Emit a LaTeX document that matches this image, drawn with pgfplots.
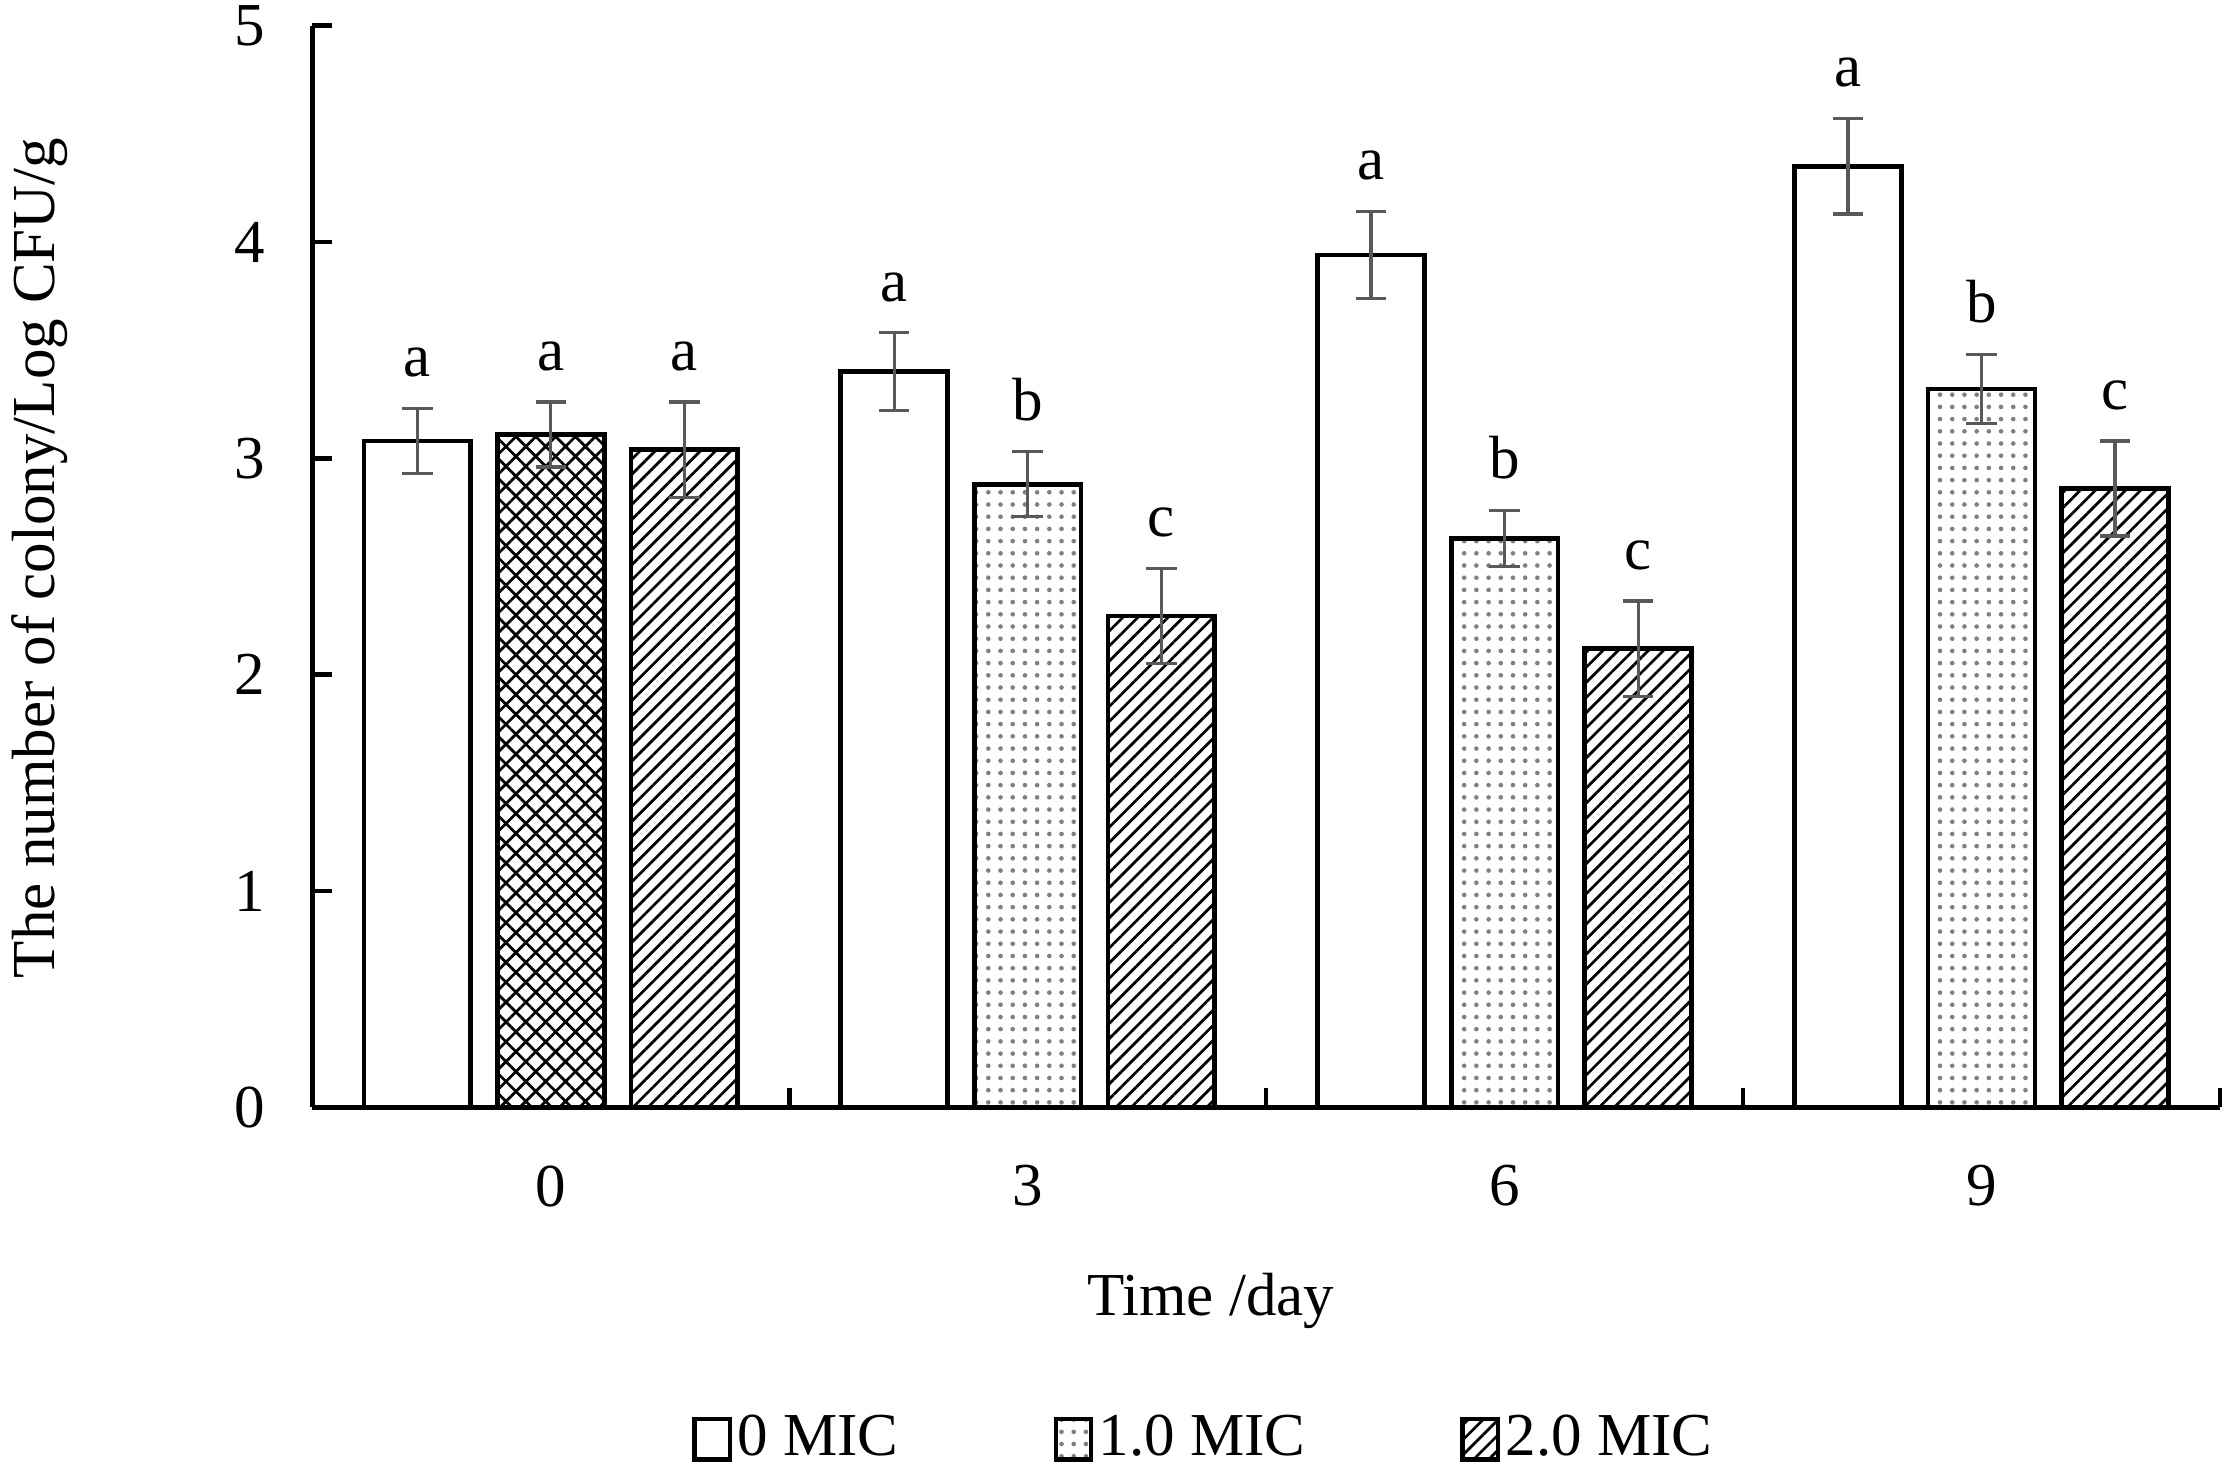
\documentclass[border=0pt]{standalone}
\usepackage{fontspec}
\setmainfont{Liberation Serif}
\usepackage{pgfplots}
\usepackage{pgfplotstable}
\pgfplotsset{compat=1.18}
\usetikzlibrary{patterns.meta}

% 0 MIC
\pgfplotstableread{
x s e
-0.28 3.08 0.15
0.72 3.40 0.18
1.72 3.94 0.20
2.72 4.35 0.22
}\seriesA

% 1.0 MIC (days 3, 6, 9)
\pgfplotstableread{
x s e
1 2.88 0.15
2 2.63 0.13
3 3.32 0.16
}\seriesB

% 1.0 MIC (day 0, cross-hatched in the original)
\pgfplotstableread{
x s e
0 3.11 0.15
}\seriesBzero

% 2.0 MIC
\pgfplotstableread{
x s e
0.28 3.04 0.22
1.28 2.27 0.22
2.28 2.12 0.22
3.28 2.86 0.22
}\seriesC

\pgfplotstableread{
x y t
-0.28 3.23 a
0 3.26 a
0.28 3.26 a
0.72 3.58 a
1 3.03 b
1.28 2.49 c
1.72 4.14 a
2 2.76 b
2.28 2.34 c
2.72 4.57 a
3 3.48 b
3.28 3.08 c
}\lettertab

\begin{document}
\begin{tikzpicture}
\begin{axis}[
  at={(0,0)}, anchor=south west,
  scale only axis, width=312.7pt, height=177.3pt,
  xmin=-0.5, xmax=3.5, ymin=0, ymax=5,
  axis x line=bottom, axis y line=left,
  axis line style={-, line width=0.75pt},
  tick align=inside, major tick length=3.2pt,
  tick style={line width=0.75pt, black},
  ytick={0,1,2,3,4,5},
  xtick={0.5,1.5,2.5,3.5}, xticklabels={0,3,6,9},
  xticklabel style={xshift=-39.09pt, yshift=-6pt},
  yticklabel style={xshift=-4.3pt},
  /pgf/number format/assume math mode=true,
  xlabel={Time /day},
  ylabel={The number of colony/Log CFU/g},
  every axis x label/.style={at={(axis description cs:0.471,0)}, anchor=north, yshift=-23.7pt},
  every axis y label/.style={at={(axis description cs:-0.143,0.508)}, anchor=center, rotate=90},
  legend style={at={(axis description cs:0.468,-0.307)}, anchor=center, draw=none,
    legend columns=-1, nodes={inner sep=0.9pt},
    /tikz/every even column/.append style={column sep=24.5pt}},
  legend cell align=left,
  legend image code/.code={\draw[#1, line width=0.7pt] (0pt,-3.3pt) rectangle (5.8pt,3.3pt);},
  error bars/error bar style={draw=black!65, line width=0.55pt},
  error bars/error mark options={rotate=90, mark size=2.5pt, draw=black!65, line width=0.55pt},
]
\addplot[ybar, bar width=0.224, bar shift=0, draw=black, line width=0.75pt, fill=white,
  error bars/.cd, y dir=both, y explicit]
  table[x=x, y=s, y error=e] {\seriesA};
\addlegendentry{0 MIC}

\addplot[ybar, bar width=0.224, bar shift=0, draw=black, line width=0.75pt, fill=white,
  postaction={pattern={Dots[distance=2pt, radius=0.38pt]}, pattern color=black!50},
  error bars/.cd, y dir=both, y explicit]
  table[x=x, y=s, y error=e] {\seriesB};
\addlegendentry{1.0 MIC}

\addplot[ybar, bar width=0.224, bar shift=0, draw=black, line width=0.75pt, fill=white,
  postaction={pattern={Hatch[angle=45, distance=2.3pt, line width=0.45pt]}, pattern color=black},
  forget plot,
  error bars/.cd, y dir=both, y explicit]
  table[x=x, y=s, y error=e] {\seriesBzero};

\addplot[ybar, bar width=0.224, bar shift=0, draw=black, line width=0.75pt, fill=white,
  postaction={pattern={Lines[angle=45, distance=1.75pt, line width=0.45pt]}, pattern color=black},
  error bars/.cd, y dir=both, y explicit]
  table[x=x, y=s, y error=e] {\seriesC};
\addlegendentry{2.0 MIC}

\addplot[draw=none, mark=none, forget plot,
  nodes near coords, point meta=explicit symbolic,
  every node near coord/.style={anchor=base, inner sep=0pt, yshift=5.2pt, font=\fontsize{10}{12}\selectfont}]
  table[x=x, y=y, meta=t] {\lettertab};
\end{axis}
\pgfresetboundingbox
\path[use as bounding box] (-51.2pt,-59.2pt) rectangle (314pt,181.5pt);
\end{tikzpicture}
\end{document}
